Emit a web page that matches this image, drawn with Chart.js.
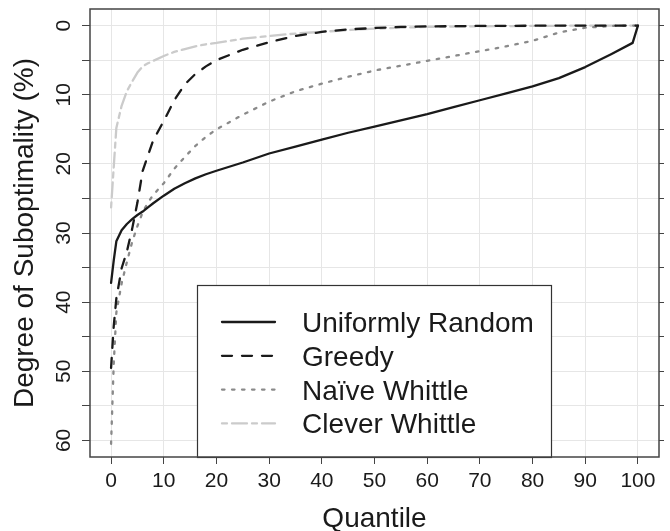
<!DOCTYPE html>
<html>
<head>
<meta charset="utf-8">
<title>Degree of Suboptimality by Quantile</title>
<script src="https://cdn.jsdelivr.net/npm/chart.js"></script>
<style>
    html, body { margin: 0; padding: 0; background: #fff; }
    .chart-box { width: 670px; height: 531px; }
</style>
</head>
<body>
<div class="chart-box"><canvas id="quantile-chart"></canvas></div>
<script>
(function () {
    "use strict";

    // Data
    var quantiles = [0, 0.5, 1, 2, 3, 4, 5, 6, 7, 8, 10, 12, 14, 16, 18, 20, 25, 30, 35, 40, 45, 50, 55, 60, 65, 70, 75, 80, 85, 90, 95, 99, 100];
    var uniformRandom = [37.2, 34.0, 31.2, 29.6, 28.7, 28.0, 27.4, 26.9, 26.3, 25.7, 24.6, 23.6, 22.8, 22.1, 21.5, 21.0, 19.8, 18.5, 17.5, 16.5, 15.5, 14.6, 13.7, 12.8, 11.8, 10.8, 9.8, 8.8, 7.6, 6.0, 4.1, 2.5, 0];
    var greedy = [49.5, 43.5, 39.5, 35.1, 32.7, 29.4, 25.6, 21.0, 18.8, 16.6, 13.8, 10.8, 8.5, 7.0, 5.9, 5.0, 3.5, 2.4, 1.5, 0.9, 0.55, 0.35, 0.2, 0.12, 0.08, 0.05, 0.03, 0.02, 0, 0, 0, 0, 0];
    var naiveWhittle = [60.5, 49.0, 41.5, 37.3, 34.2, 31.3, 29.0, 27.0, 25.6, 24.5, 22.8, 20.7, 19.0, 17.4, 16.1, 15.0, 12.9, 11.0, 9.5, 8.4, 7.4, 6.5, 5.8, 5.1, 4.4, 3.7, 3.0, 2.2, 1.0, 0.3, 0.05, 0, 0];
    var cleverWhittle = [26.3, 20.5, 14.8, 11.6, 9.5, 8.1, 6.8, 5.9, 5.45, 5.1, 4.4, 3.8, 3.4, 3.0, 2.7, 2.5, 1.9, 1.5, 1.15, 0.9, 0.65, 0.45, 0.3, 0.2, 0.15, 0.1, 0.08, 0.05, 0.03, 0, 0, 0, 0];
    var seriesNames = ["Uniformly Random", "Greedy", "Na\u00efve Whittle", "Clever Whittle"];
    var yTickLabels = [0, 10, 20, 30, 40, 50, 60];

    var fontFamily = '"Liberation Sans", Arial, Helvetica, sans-serif';
    var textColor = "#1a1a1a";
    var frameColor = "#444";

    Chart.defaults.font.family = fontFamily;
    Chart.defaults.color = textColor;

    function toPoints(values) {
        return quantiles.map(function (q, i) {
            return {x: q, y: values[i]};
        });
    }

    function lineSet(label, values, color, dash) {
        return {
            label: label,
            data: toPoints(values),
            borderColor: color,
            borderWidth: 2.3,
            borderDash: dash,
            borderCapStyle: "round",
            borderJoinStyle: "round",
            pointRadius: 0,
            tension: 0,
            fill: false
        };
    }


    // Rotated y tick labels
    var yLabels = {
        id: "yLabels",
        afterDraw: function (chart) {
            var ctx = chart.ctx;
            var scale = chart.scales.y;
            ctx.save();
            ctx.font = "21px " + fontFamily;
            ctx.fillStyle = textColor;
            ctx.textAlign = "center";
            ctx.textBaseline = "alphabetic";
            yTickLabels.forEach(function (v) {
                var py = scale.getPixelForValue(v);
                ctx.save();
                ctx.translate(70, py);
                ctx.rotate(-Math.PI / 2);
                ctx.fillText(String(v), 0, 0);
                ctx.restore();
            });
            ctx.restore();
        }
    };


    // Boxed legend inside the plot
    var boxLegend = {
        id: "boxLegend",
        afterDatasetsDraw: function (chart) {
            var ctx = chart.ctx;
            var area = chart.chartArea;
            var left = 197, top = 285, right = 551, bottom = area.bottom;
            ctx.save();
            ctx.fillStyle = "#fff";
            ctx.fillRect(left, top, right - left, bottom - top);
            ctx.strokeStyle = "#333";
            ctx.lineWidth = 1.2;
            ctx.strokeRect(left + 0.5, top + 0.5, right - left, bottom - top);
            chart.data.datasets.forEach(function (ds, i) {
                var y = 322 + i * 33.8;
                ctx.beginPath();
                ctx.setLineDash(ds.borderDash || []);
                ctx.lineCap = "round";
                ctx.strokeStyle = ds.borderColor;
                ctx.lineWidth = ds.borderWidth;
                ctx.moveTo(222, y);
                ctx.lineTo(275, y);
                ctx.stroke();
                ctx.setLineDash([]);
                ctx.fillStyle = textColor;
                ctx.font = "28px " + fontFamily;
                ctx.textAlign = "left";
                ctx.textBaseline = "alphabetic";
                ctx.fillText(ds.label, 302, y + 10);
            });
            ctx.restore();
        }
    };


    // Panel frame
    var frame = {
        id: "frame",
        afterDraw: function (chart) {
            var a = chart.chartArea;
            var ctx = chart.ctx;
            ctx.save();
            ctx.strokeStyle = frameColor;
            ctx.lineWidth = 1.5;
            ctx.strokeRect(a.left, a.top, a.right - a.left, a.bottom - a.top);
            ctx.restore();
        }
    };


    var ctx1 = document.getElementById("quantile-chart").getContext("2d");
    var myChart1 = new Chart(ctx1, {
        type: "line",
        data: {
            datasets: [
                lineSet(seriesNames[0], uniformRandom, "#1a1a1a", []),
                lineSet(seriesNames[1], greedy, "#1a1a1a", [10, 10]),
                lineSet(seriesNames[2], naiveWhittle, "#8a8a8a", [2.5, 7.5]),
                lineSet(seriesNames[3], cleverWhittle, "#cbcbcb", [5, 5, 15, 5])
            ]
        },
        options: {
            responsive: true,
            maintainAspectRatio: false,
            animation: false,
            layout: {padding: {top: 9, right: 0, bottom: 0, left: 0}},
            plugins: {
                legend: {display: false},
                tooltip: {enabled: false}
            },
            scales: {
                x: {
                    type: "linear",
                    min: -4,
                    max: 104,
                    ticks: {
                        stepSize: 10,
                        includeBounds: false,
                        autoSkip: false,
                        maxRotation: 0,
                        padding: 5,
                        color: textColor,
                        font: {size: 21}
                    },
                    grid: {color: "#e6e6e6", tickColor: frameColor, tickLength: 7},
                    border: {display: false},
                    title: {
                        display: true,
                        text: "Quantile",
                        color: textColor,
                        font: {size: 28, lineHeight: 0.85},
                        padding: {top: 0, bottom: 0}
                    },
                    afterFit: function (scale) { scale.height = 74; }
                },
                y: {
                    type: "linear",
                    reverse: true,
                    min: -2.4,
                    max: 62.4,
                    ticks: {stepSize: 5, includeBounds: false, display: false},
                    grid: {color: "#e6e6e6", tickColor: frameColor, tickLength: 8},
                    border: {display: false},
                    title: {
                        display: true,
                        text: "Degree of Suboptimality (%)",
                        color: textColor,
                        font: {size: 28, lineHeight: 0.85},
                        padding: {top: 13, bottom: 0}
                    },
                    afterFit: function (scale) { scale.width = 90; }
                },
                yRight: {
                    type: "linear",
                    display: true,
                    position: "right",
                    reverse: true,
                    min: -2.4,
                    max: 62.4,
                    ticks: {stepSize: 5, includeBounds: false, display: false},
                    grid: {drawOnChartArea: false, tickColor: frameColor, tickLength: 5},
                    border: {display: false},
                    afterFit: function (scale) { scale.width = 11; }
                }
            }
        },
        plugins: [boxLegend, yLabels, frame]
    });
})();
</script>
</body>
</html>
